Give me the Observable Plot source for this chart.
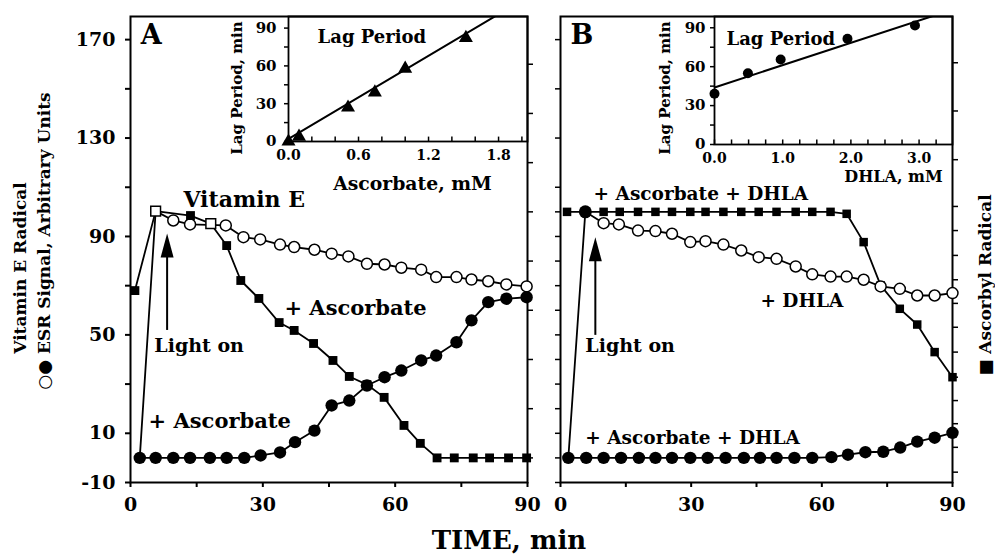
<!DOCTYPE html>
<html><head><meta charset="utf-8">
<script src="https://cdn.jsdelivr.net/npm/d3@7"></script>
<script src="https://cdn.jsdelivr.net/npm/@observablehq/plot@0.6"></script>
<style>
body{margin:0;background:#fff;}
#chart{position:relative;width:995px;height:556px;overflow:hidden;background:#fff;font-family:"DejaVu Serif",serif;font-weight:bold;color:#000;}
#chart svg{position:absolute;left:0;top:0;background:transparent !important;overflow:visible;}
.lbl{position:absolute;white-space:nowrap;font-weight:bold;line-height:1;}
</style></head><body><div id="chart"></div>
<script>
// ---------- DATA ----------
// Panel A : time (min) and ESR signal (arbitrary units)
const tA_vitE = [2.1, 5.7, 9.7, 13.5, 21.6, 25.6, 29.4, 33.9, 37.1, 41.7, 45.6, 49.4, 53.6, 57.6, 61.4, 65.9, 69.3, 73.9, 77.3, 81.1, 85.2, 89.8];
const vA_vitE = [0, 100.3, 96.5, 94.9, 94.5, 89.7, 88.8, 86.7, 85.7, 84.6, 83.0, 81.9, 78.9, 78.6, 77.3, 76.5, 73.5, 73.5, 72.5, 71.8, 70.5, 69.7];
const tA_asc = [1.0, 5.7, 13.6, 18.2, 21.8, 25.0, 29.1, 33.7, 37.1, 41.5, 45.9, 49.6, 53.6, 57.5, 62.0, 65.7, 69.5, 73.4, 77.7, 81.4, 85.7, 89.8];
const vA_asc = [68, 100.3, 98.5, 95.2, 86.3, 72.1, 64.8, 55.0, 51.8, 46.5, 39.6, 33.1, 29.8, 24.6, 13.2, 5.9, 0, 0, 0, 0, 0, 0];
const openSquareTimesA = [5.7, 18.2];
const tA_vitEasc = [2.1, 5.7, 9.7, 13.5, 18.0, 21.8, 25.8, 29.5, 33.9, 37.3, 41.7, 45.6, 49.6, 53.6, 57.6, 61.4, 65.9, 69.3, 73.9, 77.3, 81.1, 85.2, 89.8];
const vA_vitEasc = [0, 0, 0, 0, 0, 0, 0, 1.0, 2.2, 6.4, 11.1, 21.3, 23.3, 29.4, 32.8, 35.5, 39.6, 41.6, 47.0, 55.9, 63.3, 64.7, 65.3];

// Panel B
const tB_vitE = [1.8, 5.7, 9.9, 13.4, 17.8, 21.8, 25.6, 29.8, 33.3, 37.4, 41.5, 45.5, 49.6, 54.0, 57.8, 62.0, 65.7, 69.6, 73.5, 77.9, 81.9, 85.9, 90.0];
const vB_vitE = [0, 100, 95.4, 94.9, 92.4, 92.2, 91.1, 87.7, 88.1, 86.7, 84.3, 81.6, 80.9, 77.8, 74.6, 73.7, 73.7, 72.4, 69.7, 68.7, 66.0, 66.0, 67.0];
const tB_asc = [1.5, 5.7, 9.9, 13.6, 17.8, 21.8, 25.6, 29.8, 33.3, 37.4, 41.5, 45.5, 49.6, 54.0, 57.8, 62.0, 65.7, 69.6, 73.5, 77.9, 81.9, 85.9, 90.0];
const vB_asc = [100, 100, 100, 100, 100, 100, 100, 100, 100, 100, 100, 100, 100, 100, 100, 100, 99.2, 87.7, 70.1, 60.6, 54.2, 43.0, 32.8];
const tB_vitEasc = [1.8, 5.9, 9.9, 13.9, 18.0, 21.8, 25.6, 29.8, 33.8, 37.9, 42.1, 45.8, 49.6, 53.7, 57.8, 62.2, 66.0, 70.0, 74.1, 78.0, 81.9, 85.9, 90.0];
const vB_vitEasc = [0, 0, 0, 0, 0, 0, 0, 0, 0, 0, 0, 0, 0, 0, 0, 0.3, 1.3, 2.3, 2.5, 4.2, 6.6, 8.2, 10.2];

// Insets: lag period (min)
const ascConc = [0.0, 0.09, 0.51, 0.74, 1.0, 1.52];
const lagAsc = [0, 3.9, 27, 39, 57.8, 82.2];
const fitAscX = [0, 1.8];
const fitAscY = [2, 101];
const dhlaConc = [0, 0.49, 0.97, 1.95, 2.94];
const lagDhla = [39.2, 55, 65.6, 81.5, 91.8];
const fitDhlaX = [0, 3.5];
const fitDhlaY = [44, 104.2];

// "Light on" arrows (time, tip value, tail value)
const lightOnA = {t: 8.3, tip: 91.2, tail: 51.8};
const lightOnB = {t: 8.0, tip: 89.7, tail: 49.8};

// Ticks
const timeTicks = [0, 15, 30, 45, 60, 75, 90];
const timeLabels = [0, 30, 60, 90];
const yTicksA = [-10, 10, 30, 50, 70, 90, 110, 130, 150, 170];
const yLabels = [-10, 10, 50, 90, 130, 170];
const rightTicksA = [0, 20, 40, 60, 80, 100, 120, 140, 160];
const yTicksB = [-10, 0, 10, 20, 30, 40, 50, 60, 70, 80, 90, 100, 110, 130, 150, 170];
const rightTicksB = [-5.8, 4.3, 13.9, 23.3, 32.8, 43.0, 53.1, 62.8, 72.4, 82.3, 92.4, 102.2, 121.2, 141.0, 160.6];
const insetTicksAx = [0, 0.2, 0.4, 0.6, 0.8, 1.0, 1.2, 1.4, 1.6, 1.8, 2.0];
const insetLabelsAx = [0, 0.6, 1.2, 1.8];
const insetTicksBx = [0, 0.25, 0.5, 0.75, 1.0, 1.25, 1.5, 1.75, 2.0, 2.25, 2.5, 2.75, 3.0, 3.25];
const insetLabelsBx = [0, 1.0, 2.0, 3.0];
const insetTicksY = [0, 15, 30, 45, 60, 75, 90];
const insetLabelsY = [0, 30, 60, 90];

// ---------- DRAWING ----------
const W = 995, H = 556;
const chart = document.getElementById("chart");
const pts = (xs, ys) => xs.map((x, i) => ({x, y: ys[i]}));
const STYLE = "font-family:'DejaVu Serif',serif;font-weight:bold;font-size:19px;background:transparent;overflow:visible;";

function layer(f, xd, yd, marks) {
  const svg = Plot.plot({
    width: W, height: H,
    marginLeft: f[0], marginRight: W - f[1], marginTop: f[2], marginBottom: H - f[3],
    x: {domain: xd}, y: {domain: yd},
    style: STYLE,
    marks
  });
  chart.appendChild(svg);
}

const arrowHead = {draw(ctx) { ctx.moveTo(0, 0); ctx.lineTo(-6.5, 24); ctx.lineTo(6.5, 24); ctx.closePath(); }};
const fmt = (labels) => d => labels.includes(d) ? String(d) : "";

function lightMarks(L) {
  return [
    Plot.ruleX([L], {x: "t", y1: "tail", y2: d => d.tip - 5, strokeWidth: 2}),
    Plot.dot([L], {x: "t", y: "tip", symbol: arrowHead, fill: "black", stroke: "none", r: 5})
  ];
}
function texts(arr) {
  return Plot.text(arr, {x: "t", y: "v", text: "s", fontSize: "fs", textAnchor: "start", lineAnchor: "middle", fill: "black", fontWeight: "bold"});
}

// Panel A
const A_vitE = pts(tA_vitE, vA_vitE), A_asc = pts(tA_asc, vA_asc), A_ve = pts(tA_vitEasc, vA_vitEasc);
layer([130, 527, 16, 482], [0, 90], [-10, 179.4], [
  Plot.frame({strokeWidth: 2}),
  Plot.axisX({ticks: timeTicks, tickFormat: fmt(timeLabels), tickSize: 5, tickPadding: 10, fontSize: 19, strokeWidth: 2, label: null}),
  Plot.axisY({ticks: yTicksA, tickFormat: fmt(yLabels), tickSize: 5, tickPadding: 10, fontSize: 19, strokeWidth: 2, label: null}),
  Plot.axisY({anchor: "right", ticks: rightTicksA, tickFormat: () => "", tickSize: 5, strokeWidth: 1.5, label: null}),
  Plot.line(A_vitE, {x: "x", y: "y", strokeWidth: 1.8}),
  Plot.line(A_asc, {x: "x", y: "y", strokeWidth: 1.8}),
  Plot.line(A_ve, {x: "x", y: "y", strokeWidth: 1.8}),
  Plot.dot(A_vitE.slice(2), {x: "x", y: "y", r: 5.5, fill: "white", stroke: "black", strokeWidth: 1.5}),
  Plot.dot(A_ve, {x: "x", y: "y", r: 6.2, fill: "black"}),
  Plot.dot(A_asc.filter(d => !openSquareTimesA.includes(d.x)), {x: "x", y: "y", symbol: "square", r: 5, fill: "black"}),
  Plot.dot(A_asc.filter(d => openSquareTimesA.includes(d.x)), {x: "x", y: "y", symbol: "square", r: 5.5, fill: "white", stroke: "black", strokeWidth: 1.5}),
  ...lightMarks(lightOnA),
  texts([
    {t: 2.3, v: 171.6, s: "A", fs: 27},
    {t: 12.0, v: 105, s: "Vitamin E", fs: 22},
    {t: 34.9, v: 61, s: "+ Ascorbate", fs: 21},
    {t: 4.1, v: 15, s: "+ Ascorbate", fs: 21},
    {t: 5.4, v: 45.7, s: "Light on", fs: 19}
  ])
]);

// Panel B
const B_vitE = pts(tB_vitE, vB_vitE), B_asc = pts(tB_asc, vB_asc), B_ve = pts(tB_vitEasc, vB_vitEasc);
layer([560, 952, 16, 482], [0, 90], [-10, 179.4], [
  Plot.frame({strokeWidth: 2}),
  Plot.axisX({ticks: timeTicks, tickFormat: fmt(timeLabels), tickSize: 5, tickPadding: 10, fontSize: 19, strokeWidth: 2, label: null}),
  Plot.axisY({ticks: yTicksB, tickFormat: () => "", tickSize: 5, strokeWidth: 1.5, label: null}),
  Plot.axisY({anchor: "right", ticks: rightTicksB, tickFormat: () => "", tickSize: 5, strokeWidth: 1.5, label: null}),
  Plot.line(B_asc, {x: "x", y: "y", strokeWidth: 1.8}),
  Plot.line(B_vitE, {x: "x", y: "y", strokeWidth: 1.8}),
  Plot.line(B_ve, {x: "x", y: "y", strokeWidth: 1.8}),
  Plot.dot(B_asc, {x: "x", y: "y", symbol: "square", r: 4.8, fill: "black"}),
  Plot.dot(B_vitE.slice(2), {x: "x", y: "y", r: 5.5, fill: "white", stroke: "black", strokeWidth: 1.5}),
  Plot.dot(B_vitE.slice(1, 2), {x: "x", y: "y", r: 6.5, fill: "black"}),
  Plot.dot(B_ve, {x: "x", y: "y", r: 6.2, fill: "black"}),
  ...lightMarks(lightOnB),
  texts([
    {t: 2.3, v: 171.6, s: "B", fs: 27},
    {t: 7.6, v: 107.4, s: "+ Ascorbate + DHLA", fs: 18.5},
    {t: 45.9, v: 63.9, s: "+ DHLA", fs: 18.5},
    {t: 5.7, v: 8.2, s: "+ Ascorbate + DHLA", fs: 18.5},
    {t: 5.7, v: 45.7, s: "Light on", fs: 19}
  ])
]);

// Inset A
layer([288, 527, 16, 141], [0, 2.048], [0, 99.2], [
  Plot.frame({strokeWidth: 1.8}),
  Plot.ruleX(insetTicksAx, {x: d => d, y1: 0, y2: 3.5, strokeWidth: 1.5}),
  Plot.axisX({ticks: insetTicksAx, tickFormat: d => insetLabelsAx.includes(d) ? d.toFixed(1) : "", tickSize: 0, tickPadding: 9, fontSize: 14, label: null}),
  Plot.axisY({ticks: insetTicksY, tickFormat: fmt(insetLabelsY), tickSize: 4, tickPadding: 8, fontSize: 15, strokeWidth: 1.5, label: null}),
  Plot.line(pts(fitAscX, fitAscY), {x: "x", y: "y", strokeWidth: 2, clip: true}),
  Plot.dot(pts(ascConc, lagAsc), {x: "x", y: "y", symbol: "triangle", r: 5.2, fill: "black"}),
  Plot.text([{x: 0.249, y: 82.9, s: "Lag Period"}], {x: "x", y: "y", text: "s", fontSize: 18, textAnchor: "start", lineAnchor: "middle"}),
  Plot.text([{x: 1.063, y: -33.5, s: "Ascorbate, mM"}], {x: "x", y: "y", text: "s", fontSize: 18.8, textAnchor: "middle", lineAnchor: "middle"})
]);

// Inset B
layer([714, 952, 16, 144], [0, 3.49], [0, 98.7], [
  Plot.frame({strokeWidth: 1.8}),
  Plot.ruleX(insetTicksBx, {x: d => d, y1: 0, y2: 3.5, strokeWidth: 1.5}),
  Plot.axisX({ticks: insetTicksBx, tickFormat: d => insetLabelsBx.includes(d) ? d.toFixed(1) : "", tickSize: 0, tickPadding: 9, fontSize: 14, label: null}),
  Plot.axisY({ticks: insetTicksY, tickFormat: fmt(insetLabelsY), tickSize: 4, tickPadding: 5, fontSize: 15, strokeWidth: 1.5, label: null}),
  Plot.line(pts(fitDhlaX, fitDhlaY), {x: "x", y: "y", strokeWidth: 2, clip: true}),
  Plot.dot(pts(dhlaConc, lagDhla), {x: "x", y: "y", r: 5, fill: "black"}),
  Plot.text([{x: 0.176, y: 81.3, s: "Lag Period"}], {x: "x", y: "y", text: "s", fontSize: 18, textAnchor: "start", lineAnchor: "middle"}),
  Plot.text([{x: 2.625, y: -24.8, s: "DHLA, mM"}], {x: "x", y: "y", text: "s", fontSize: 16, textAnchor: "middle", lineAnchor: "middle"})
]);

// HTML titles
function htmlLabel(text, cx, cy, fs, rotate) {
  const d = document.createElement("div");
  d.className = "lbl";
  d.textContent = text;
  d.style.left = cx + "px";
  d.style.top = cy + "px";
  d.style.fontSize = fs + "px";
  d.style.transform = "translate(-50%,-50%)" + (rotate ? " rotate(-90deg)" : "");
  chart.appendChild(d);
}
htmlLabel("Vitamin E Radical", 20, 268, 17, true);
htmlLabel("\u25CB\u25CF ESR Signal, Arbitrary Units", 44, 241, 17, true);
htmlLabel("\u25A0 Ascorbyl Radical", 985, 285, 17, true);
htmlLabel("TIME, min", 509, 540, 26, false);
htmlLabel("Lag Period, min", 237, 88, 15, true);
htmlLabel("Lag Period, min", 665, 88, 15, true);
</script></body></html>
